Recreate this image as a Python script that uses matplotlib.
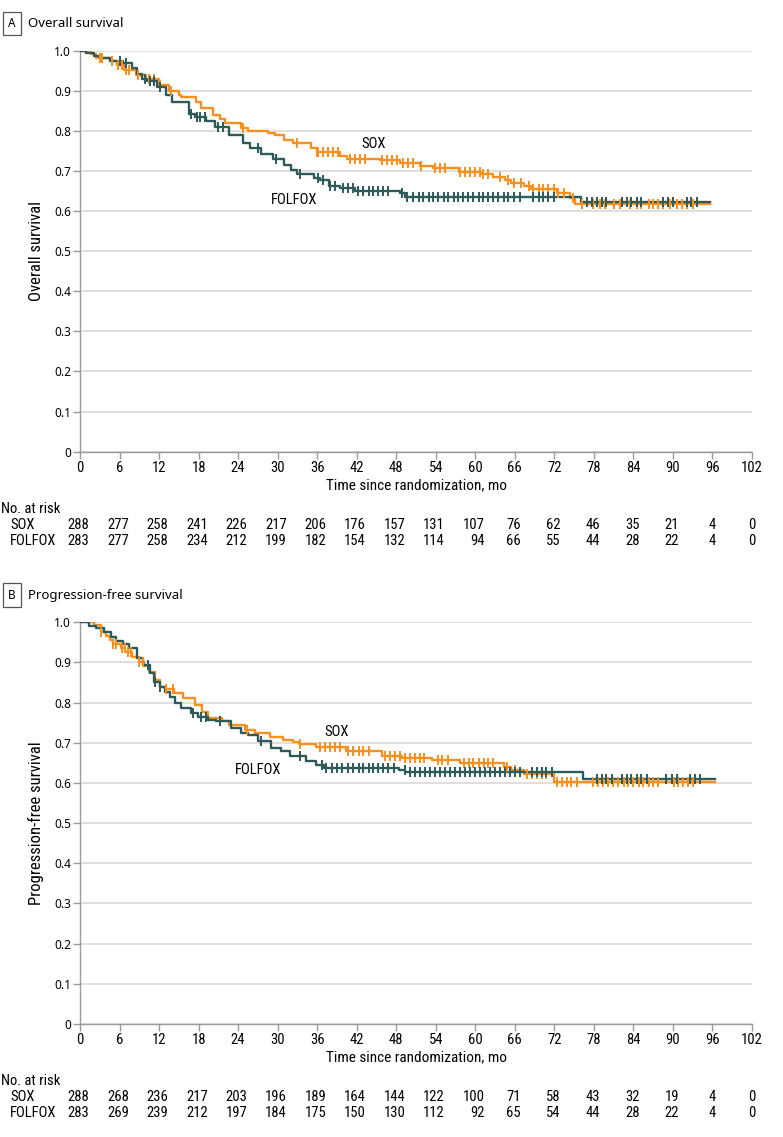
import numpy as np
import matplotlib.pyplot as plt
from matplotlib.transforms import blended_transform_factory

# ---- data ----
# Panel A: overall survival (step times in months, survival after the step)
os_sox_t = [0, 1.7, 2.5, 4.5, 5.6, 6.7, 8.5, 10, 12, 13.5, 15, 15.3, 17.6, 18.4, 20.2, 21.2, 22, 24.5,
            25.5, 28.5, 29.6, 31, 32.3, 35.1, 35.9, 39.4, 40.5, 45.6, 48.6, 51.6, 53.6, 57.5, 60.8,
            62.7, 64.5, 65.4, 67.4, 68.4, 72.4, 74.4, 75.2]
os_sox_s = [1.0, 0.991, 0.981, 0.973, 0.963, 0.952, 0.940, 0.929, 0.914, 0.900, 0.890, 0.883, 0.872,
            0.857, 0.840, 0.830, 0.819, 0.808, 0.800, 0.794, 0.790, 0.777, 0.769, 0.756, 0.747, 0.736,
            0.730, 0.726, 0.719, 0.711, 0.706, 0.697, 0.691, 0.684, 0.676, 0.670, 0.663, 0.654, 0.644,
            0.632, 0.618]
os_sox_cens = [3.0, 3.4, 4.8, 5.8, 6.3, 7.0, 7.5, 8.8, 10.5, 11.3, 12.2, 13.8, 24.7, 32.9, 35.9, 36.2,
               36.9, 37.7, 38.4, 39.2, 41.0, 41.7, 42.5, 43.3, 45.8, 46.6, 47.3, 48.1, 49.1, 49.8, 50.6,
               51.8, 53.9, 54.6, 55.4, 57.7, 58.4, 59.2, 59.9, 60.7, 61.2, 62.0, 63.7, 65.0, 65.8, 67.0,
               68.1, 68.8, 69.6, 70.3, 71.1, 71.9, 72.6, 73.4, 74.9, 76.2, 77.9, 78.9, 79.7, 81.0, 82.0,
               83.5, 84.5, 85.2, 86.3, 87.0, 87.8, 88.5, 89.6, 90.6, 91.3, 92.1, 93.1]
os_fol_t = [0, 0.9, 2.1, 3.1, 4.6, 6.6, 7.9, 8.7, 9.4, 10.2, 11.7, 13.0, 14.0, 16.5, 17.5, 19.2, 20.5,
            22.6, 24.8, 25.8, 27.5, 29.3, 31.0, 32.0, 33.0, 35.5, 36.5, 37.8, 39.5, 41.8, 48.6, 49.3, 76.0]
os_fol_s = [1.0, 0.993, 0.987, 0.981, 0.975, 0.968, 0.956, 0.941, 0.929, 0.923, 0.910, 0.888, 0.871,
            0.841, 0.835, 0.825, 0.810, 0.790, 0.769, 0.757, 0.742, 0.730, 0.715, 0.702, 0.692, 0.682,
            0.676, 0.663, 0.658, 0.650, 0.644, 0.636, 0.623]
os_fol_cens = [6.0, 7.0, 9.8, 10.6, 11.3, 12.1, 16.9, 17.7, 18.2, 18.9, 20.9, 21.7, 27.0, 29.8, 33.4,
               36.2, 36.9, 37.9, 38.7, 39.9, 40.7, 41.5, 42.2, 43.0, 43.8, 44.5, 45.3, 46.0, 46.8, 48.8,
               49.6, 50.6, 51.4, 52.1, 52.9, 53.6, 54.4, 55.2, 55.9, 56.7, 57.4, 58.2, 58.9, 59.7, 60.5,
               61.2, 62.0, 62.7, 63.5, 64.3, 65.0, 65.8, 66.8, 68.8, 69.6, 70.3, 71.1, 71.9, 76.9, 77.7,
               78.4, 79.2, 79.9, 82.2, 83.0, 83.7, 84.5, 85.2, 88.5, 89.3, 90.0, 92.1, 92.8, 93.6]
os_end = 95.6

# Panel B: progression-free survival
pfs_sox_t = [0, 2.2, 3.2, 4.0, 4.5, 5.0, 6.2, 6.9, 7.9, 8.9, 9.7, 10.5, 11.4, 12.2, 13.0, 14.2, 15.7,
             17.5, 18.5, 19.5, 21.6, 22.6, 25.1, 26.6, 28.8, 30.8, 32.3, 33.3, 35.8, 40.3, 45.9, 48.9,
             53.4, 57.7, 64.4, 65.4, 67.4, 72.0]
pfs_sox_s = [1.0, 0.993, 0.975, 0.967, 0.956, 0.945, 0.935, 0.925, 0.914, 0.902, 0.890, 0.877, 0.856,
             0.840, 0.834, 0.823, 0.811, 0.794, 0.777, 0.761, 0.754, 0.744, 0.732, 0.724, 0.715, 0.707,
             0.701, 0.696, 0.690, 0.680, 0.668, 0.662, 0.656, 0.650, 0.640, 0.632, 0.622, 0.603]
pfs_sox_cens = [3.2, 5.0, 5.5, 6.3, 6.8, 7.3, 7.8, 8.9, 9.6, 13.1, 14.1, 25.4, 33.4, 36.4, 37.2, 37.9,
                38.7, 39.5, 40.7, 41.5, 42.3, 43.0, 43.8, 46.3, 47.1, 47.8, 48.6, 49.3, 50.1, 50.8, 51.6,
                52.2, 54.3, 55.0, 55.8, 58.3, 59.0, 59.7, 60.5, 61.3, 62.0, 62.7, 64.8, 66.0, 67.8, 68.6,
                69.3, 70.1, 70.8, 72.4, 73.1, 73.9, 74.6, 75.4, 77.9, 78.7, 79.4, 80.2, 80.9, 81.7, 82.5,
                83.2, 84.0, 84.8, 85.5, 86.3, 87.0, 87.8, 90.1, 90.8, 91.6, 92.3, 93.1]
pfs_fol_t = [0, 1.3, 2.5, 3.7, 4.7, 5.5, 6.5, 7.5, 8.6, 9.6, 10.6, 11.3, 12.1, 12.9, 13.6, 14.4, 15.4,
             16.9, 17.9, 19.4, 20.7, 22.9, 24.5, 25.5, 27.0, 29.0, 30.5, 31.8, 34.3, 35.8, 37.0, 48.4,
             49.4, 76.4]
pfs_fol_s = [1.0, 0.990, 0.985, 0.977, 0.964, 0.953, 0.945, 0.935, 0.910, 0.894, 0.873, 0.852, 0.840,
             0.827, 0.815, 0.798, 0.786, 0.774, 0.765, 0.757, 0.754, 0.736, 0.724, 0.720, 0.705, 0.688,
             0.680, 0.668, 0.655, 0.645, 0.638, 0.632, 0.628, 0.610]
pfs_fol_cens = [10.3, 11.4, 12.1, 17.2, 18.4, 19.2, 21.2, 27.4, 33.4, 36.7, 37.4, 38.2, 39.0, 39.7, 40.7,
                41.5, 42.3, 43.0, 43.8, 44.5, 45.3, 46.0, 46.8, 47.6, 49.3, 50.1, 50.9, 51.6, 52.4, 53.1,
                53.9, 54.6, 55.4, 56.2, 56.9, 57.7, 58.4, 59.2, 59.9, 60.7, 61.5, 62.2, 63.0, 63.7, 64.5,
                65.3, 66.0, 66.8, 68.6, 69.3, 70.1, 70.8, 71.6, 78.4, 79.2, 79.9, 80.7, 82.2, 83.0, 83.7,
                84.5, 85.2, 86.0, 89.0, 89.8, 90.6, 92.6, 93.3, 94.1]
pfs_end = 96.4

months = [0, 6, 12, 18, 24, 30, 36, 42, 48, 54, 60, 66, 72, 78, 84, 90, 96, 102]
risk_os_sox = [288, 277, 258, 241, 226, 217, 206, 176, 157, 131, 107, 76, 62, 46, 35, 21, 4, 0]
risk_os_fol = [283, 277, 258, 234, 212, 199, 182, 154, 132, 114, 94, 66, 55, 44, 28, 22, 4, 0]
risk_pfs_sox = [288, 268, 236, 217, 203, 196, 189, 164, 144, 122, 100, 71, 58, 43, 32, 19, 4, 0]
risk_pfs_fol = [283, 269, 239, 212, 197, 184, 175, 150, 130, 112, 92, 65, 54, 44, 28, 22, 4, 0]

SOX_C = '#F7901E'
FOL_C = '#2D5B59'
NARROW = ['Roboto Condensed', 'Liberation Sans Narrow', 'Roboto', 'DejaVu Sans']
REG = ['Noto Sans', 'DejaVu Sans']

fig = plt.figure(figsize=(7.83, 11.37), dpi=100)
W, H = 783.0, 1137.0


def draw_km(ax, t, s, cens, end, color):
    tt = list(t) + [end]
    ss = list(s) + [s[-1]]
    ax.step(tt, ss, where='post', color=color, lw=1.7, zorder=3)
    idx = np.searchsorted(np.array(t), np.array(cens), side='right') - 1
    ax.plot(cens, np.array(s)[idx], ls='none', marker='|', ms=7, mew=1.4, color=color, zorder=4)


def panel(top_px, bot_px, letter, title, ylabel, sox, fol, end, lab_sox, lab_fol, risk_sox, risk_fol, rows_px):
    ax = fig.add_axes([80 / W, 1 - bot_px / H, 672 / W, (bot_px - top_px) / H])
    draw_km(ax, *sox, end, SOX_C)
    draw_km(ax, *fol, end, FOL_C)
    ax.set_xlim(0, 102)
    ax.set_ylim(0, 1.0)
    ax.set_xticks(months)
    ax.set_xticklabels([str(m) for m in months], family=NARROW, fontsize=10.5)
    yt = np.arange(0, 1.01, 0.1)
    ax.set_yticks(yt)
    ax.set_yticklabels(['0'] + ['%.1f' % v for v in yt[1:]], family=REG, fontsize=8.5)
    ax.grid(axis='y', color='#d9d9d9', lw=1.2, zorder=0)
    for sp in ['top', 'right']:
        ax.spines[sp].set_visible(False)
    for sp in ['left', 'bottom']:
        ax.spines[sp].set_color('#9a9a9a')
        ax.spines[sp].set_linewidth(1.0)
    ax.tick_params(length=5, width=1, color='#9a9a9a', pad=1.5)
    ax.set_ylabel(ylabel, family=NARROW, fontsize=12)
    ax.yaxis.set_label_coords(-36 / 672, 0.5)
    ax.text(lab_sox[0], lab_sox[1], 'SOX', family=NARROW, fontsize=10.5, ha='center', va='center')
    ax.text(lab_fol[0], lab_fol[1], 'FOLFOX', family=NARROW, fontsize=10.5, ha='center', va='center')

    # panel heading
    ty = 1 - (top_px - 27) / H
    fig.text(12 / W, ty, letter, family=REG, fontsize=8.5, fontweight='bold', ha='center', va='center',
             bbox=dict(boxstyle='square,pad=0.45', fc='white', ec='#555555', lw=0.9))
    fig.text(28 / W, ty, title, family=REG, fontsize=9.5, ha='left', va='center')

    # x label and number-at-risk table
    tr = blended_transform_factory(ax.transData, fig.transFigure)
    xl_px, nr_px, s_px, f_px = rows_px
    ax.text(51, 1 - xl_px / H, 'Time since randomization, mo', transform=tr, family=NARROW,
            fontsize=11, ha='center', va='center')
    fig.text(1 / W, 1 - nr_px / H, 'No. at risk', family=NARROW, fontsize=10.5, ha='left', va='center')
    fig.text(10 / W, 1 - s_px / H, 'SOX', family=NARROW, fontsize=10.5, ha='left', va='center')
    fig.text(10 / W, 1 - f_px / H, 'FOLFOX', family=NARROW, fontsize=10.5, ha='left', va='center')
    for m, a, b in zip(months, risk_sox, risk_fol):
        w = max(len(str(a)), len(str(b)))
        xr = m + w * 0.47
        ax.text(xr, 1 - s_px / H, str(a), transform=tr, family=NARROW, fontsize=10.5, ha='right', va='center')
        ax.text(xr, 1 - f_px / H, str(b), transform=tr, family=NARROW, fontsize=10.5, ha='right', va='center')
    return ax


panel(50.5, 451.7, 'A', 'Overall survival', 'Overall survival',
      (os_sox_t, os_sox_s, os_sox_cens), (os_fol_t, os_fol_s, os_fol_cens), os_end,
      (44.5, 0.768), (32.5, 0.627), risk_os_sox, risk_os_fol, (485, 509, 525, 541))
panel(622.3, 1024, 'B', 'Progression-free survival', 'Progression-free survival',
      (pfs_sox_t, pfs_sox_s, pfs_sox_cens), (pfs_fol_t, pfs_fol_s, pfs_fol_cens), pfs_end,
      (38.9, 0.727), (27.1, 0.632), risk_pfs_sox, risk_pfs_fol, (1057, 1081, 1097, 1113))

fig.savefig('out.png', dpi=100)
